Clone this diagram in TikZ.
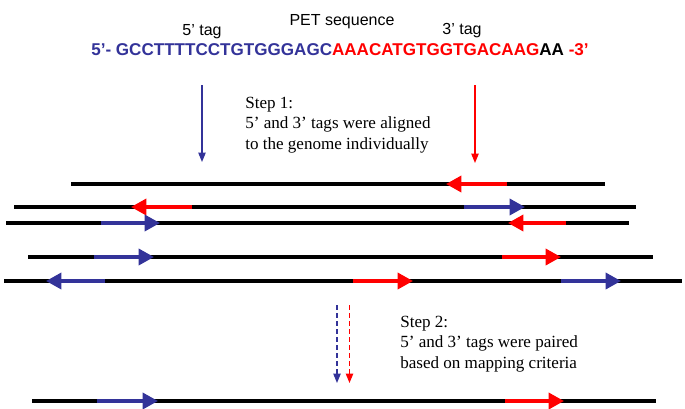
\documentclass[tikz,border=0pt]{standalone}
\usepackage{fontspec}
\setmainfont{Liberation Serif}
\setsansfont{Liberation Sans}
\usetikzlibrary{arrows.meta,positioning}
\definecolor{tagblue}{RGB}{51,51,153}
\definecolor{tagred}{RGB}{255,0,0}
\tikzset{
  genome/.style={line width=2.6pt, black},
  tag/.style={line width=2.6pt, -{Triangle[length=11.5pt,width=12pt]}},
  drop/.style={line width=0.9pt, -{Triangle[length=7pt,width=5.5pt]}},
  pair/.style={drop, dash pattern=on 4pt off 2pt},
  tagname/.style={font=\fontsize{12}{14}\selectfont\sffamily, inner sep=0pt},
  steptext/.style={font=\fontsize{12.8}{15.6}\selectfont, align=left, inner sep=0pt, anchor=north west}
}

\begin{document}
\begin{tikzpicture}[x=0.75pt, y=-0.75pt]
\useasboundingbox (0,0) rectangle (685,408);

% PET sequence and its two tags
\node (seq) at (340,50) [inner sep=0pt, font=\fontsize{12.8}{15}\selectfont\sffamily\bfseries]
  {\textcolor{tagblue}{5'- GCCTTTTCCTGTGGGAGC}\textcolor{tagred}{AAACATGTGGTGACAAG}AA \textcolor{tagred}{-3'}};
\node (pet) at (342,22) [tagname] {PET sequence};
\node (tag5) at (202,32) [tagname] {5' tag};
\node (tag3) at (462,31) [tagname] {3' tag};

% step 1
\coordinate (d5a) at (202,85);
\coordinate (d5b) at (202,162);
\coordinate (d3a) at (475,85);
\coordinate (d3b) at (475,163);
\draw[drop, tagblue] (d5a) -- (d5b);
\draw[drop, tagred] (d3a) -- (d3b);
\node (step1) [steptext] at (245,96.5) {Step 1:\\5' and 3' tags were aligned\\to the genome individually};

% genome lines
\foreach \n/\y/\xa/\xb in {1/184/71/605, 2/207/14/636, 3/223/6/629, 4/257/28/653, 5/281/4/682, 6/401/32/656}{
  \coordinate (g\n w) at (\xa,\y);
  \coordinate (g\n e) at (\xb,\y);
  \draw[genome] (g\n w) -- (g\n e);
}

% aligned tags: y / tail / tip / colour
\foreach \y/\xa/\xb/\c [count=\k] in {184/507/446/tagred, 207/192/131/tagred, 207/464/525/tagblue,
    223/101/160/tagblue, 223/566/508/tagred, 257/94/154/tagblue, 257/502/561/tagred,
    281/105/46/tagblue, 281/353/413/tagred, 281/561/621/tagblue, 401/97/158/tagblue, 401/505/564/tagred}{
  \coordinate (t\k a) at (\xa,\y);
  \coordinate (t\k b) at (\xb,\y);
  \draw[tag, \c] (t\k a) -- (t\k b);
}

% step 2
\coordinate (p5a) at (337,305);
\coordinate (p5b) at (337,383);
\coordinate (p3a) at (349.5,305);
\coordinate (p3b) at (349.5,383);
\draw[pair, tagblue] (p5a) -- (p5b);
\draw[pair, tagred] (p3a) -- (p3b);
\node (step2) [steptext] at (400,315.5) {Step 2:\\5' and 3' tags were paired\\based on mapping criteria};
\end{tikzpicture}
\end{document}
